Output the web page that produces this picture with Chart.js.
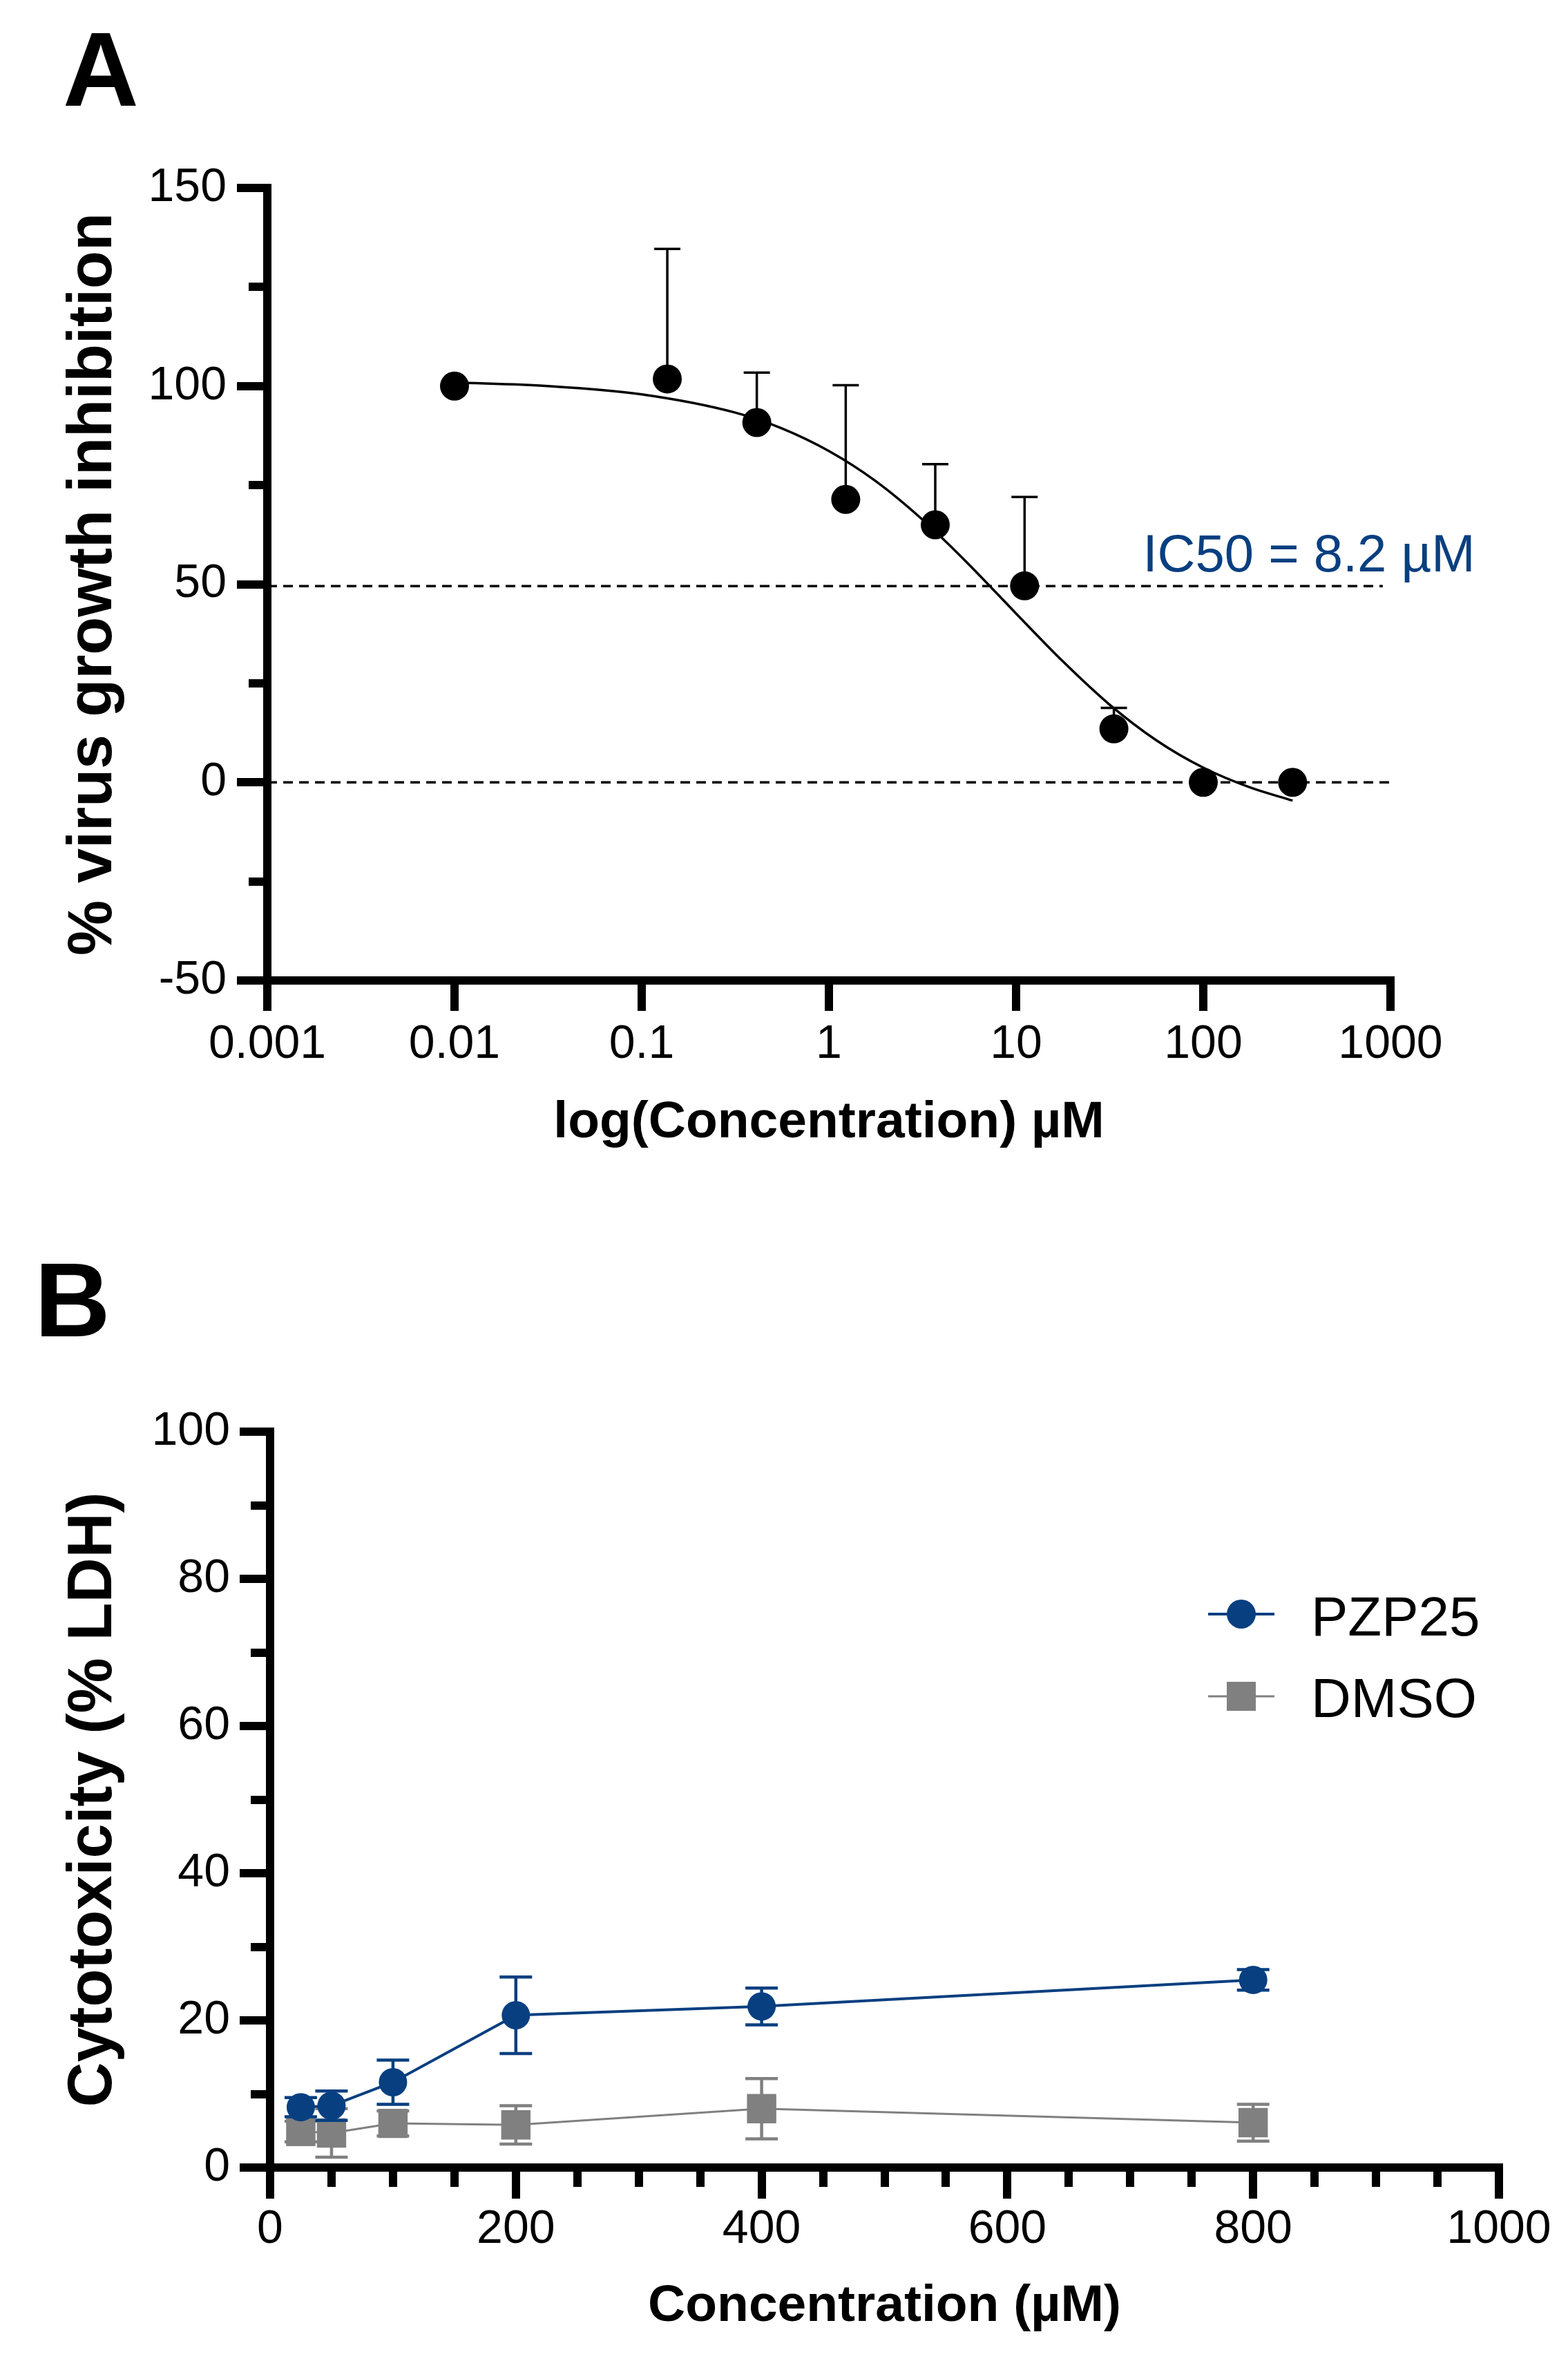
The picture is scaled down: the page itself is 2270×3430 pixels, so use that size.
<!DOCTYPE html>
<html>
<head>
<meta charset="utf-8">
<title>PZP25 dose response and cytotoxicity</title>
<script src="https://cdn.jsdelivr.net/npm/chart.js@4.4.1/dist/chart.umd.min.js"></script>
<style>
  html, body { margin: 0; padding: 0; background: #fff; }
  canvas { display: block; }
</style>
</head>
<body>
<canvas id="chartA" width="2270" height="1715"></canvas>
<canvas id="chartB" width="2270" height="1715"></canvas>
<script>
// ---- panel A: virus growth inhibition vs concentration (log axis) ----
const concA = [0.01, 0.137, 0.412, 1.23, 3.70, 11.1, 33.3, 100, 300];
const inhibition = [100, 101.8, 90.8, 71.4, 65.0, 49.6, 13.5, 0, 0];
const inhibitionErrUp = [0, 32.8, 12.6, 28.8, 15.3, 22.4, 5.3, 0, 0];

// fitted curve
const fitConc = [0.01, 0.0316, 0.1, 0.316, 0.562, 1, 1.78, 3.16, 5.62, 10, 17.8, 31.6, 56.2, 100, 178, 300];
const fitInhibition = [100.9, 100.0, 97.9, 93.3, 89.3, 83.6, 76.0, 66.3, 54.9, 42.6, 30.5, 19.6, 10.6, 3.7, -1.3, -4.6];

const halfLineX = [0.001, 910];
const halfLineY = [49.5, 49.5];
const zeroLineX = [0.001, 1000];
const zeroLineY = [0, 0];

const xTicksA = [0.001, 0.01, 0.1, 1, 10, 100, 1000];
const xTickLabelsA = ['0.001', '0.01', '0.1', '1', '10', '100', '1000'];
const ic50Text = 'IC50 = 8.2 \u00b5M';

// ---- panel B: cytotoxicity ----
const concB = [25, 50, 100, 200, 400, 800];
const pzp25 = [8.2, 8.4, 11.6, 20.7, 21.9, 25.5];
const pzp25Sd = [1.3, 2.0, 3.0, 5.2, 2.5, 1.4];
const dmso = [4.9, 4.7, 6.0, 5.8, 8.0, 6.1];
const dmsoSd = [1.4, 3.3, 1.7, 2.6, 4.1, 2.5];
const xTickLabelsB = ['0', '200', '400', '600', '800', '1000'];
const yTickLabelsB = ['0', '20', '40', '60', '80', '100'];

const BLUE = '#083f80';
const GREY = '#808080';
const FONT = '"Liberation Sans", Arial, Helvetica, sans-serif';

Chart.defaults.font.family = FONT;
Chart.defaults.color = '#000';

const pts = (xs, ys) => xs.map((x, i) => ({ x: x, y: ys[i] }));

const AXIS = 12;
const tickGrid = (len) => ({
  drawOnChartArea: false, drawTicks: true, tickLength: len,
  tickWidth: AXIS, lineWidth: AXIS, tickColor: '#000', color: '#000'
});
const minorAxis = (pos, min, max, step) => ({
  type: 'linear', position: pos, min: min, max: max, weight: 0,
  afterFit: (s) => { if (pos === 'left') s.width = 0; else s.height = 0; },
  ticks: { display: false, stepSize: step },
  grid: tickGrid(28),
  border: { display: false }
});

// error bars drawn right before the dataset they belong to
const errorBars = {
  id: 'errorBars',
  beforeDatasetDraw(chart, args) {
    const ds = chart.data.datasets[args.index];
    if (!ds.errUp && !ds.errDown) return;
    const y = chart.scales.y;
    const ctx = chart.ctx;
    ctx.save();
    ctx.strokeStyle = ds.errColor;
    ctx.lineWidth = ds.errWidth;
    args.meta.data.forEach((p, i) => {
      const v = ds.data[i].y;
      const up = ds.errUp ? ds.errUp[i] : 0;
      const dn = ds.errDown ? ds.errDown[i] : 0;
      if (!up && !dn) return;
      const yt = y.getPixelForValue(v + up);
      const yb = y.getPixelForValue(v - dn);
      ctx.beginPath();
      ctx.moveTo(p.x, yb);
      ctx.lineTo(p.x, yt);
      if (up) { ctx.moveTo(p.x - ds.capHalf, yt); ctx.lineTo(p.x + ds.capHalf, yt); }
      if (dn) { ctx.moveTo(p.x - ds.capHalf, yb); ctx.lineTo(p.x + ds.capHalf, yb); }
      ctx.stroke();
    });
    ctx.restore();
  }
};

const notesA = {
  id: 'notesA',
  afterDraw(chart) {
    const ctx = chart.ctx;
    ctx.save();
    ctx.fillStyle = '#000';
    ctx.textAlign = 'center';
    ctx.textBaseline = 'alphabetic';
    ctx.font = 'bold 152px ' + FONT;
    ctx.fillText('A', 146, 153);
    ctx.fillStyle = BLUE;
    ctx.font = '76px ' + FONT;
    ctx.fillText(ic50Text, 1895, 827);
    ctx.restore();
  }
};

const notesB = {
  id: 'notesB',
  afterDraw(chart) {
    const ctx = chart.ctx;
    ctx.save();
    ctx.fillStyle = '#000';
    ctx.textAlign = 'center';
    ctx.textBaseline = 'alphabetic';
    ctx.font = 'bold 152px ' + FONT;
    ctx.fillText('B', 105, 219);

    // legend
    const rows = [{ cy: 621, base: 652 }, { cy: 740, base: 770 }];
    chart.data.datasets.forEach((ds, i) => {
      const r = rows[i];
      const cx = 1797;
      ctx.strokeStyle = ds.borderColor;
      ctx.lineWidth = ds.borderWidth;
      ctx.beginPath();
      ctx.moveTo(cx - 48, r.cy);
      ctx.lineTo(cx + 48, r.cy);
      ctx.stroke();
      ctx.fillStyle = ds.backgroundColor;
      ctx.beginPath();
      if (ds.pointStyle === 'rect') ctx.rect(cx - 21, r.cy - 21, 42, 42);
      else ctx.arc(cx, r.cy, 21, 0, Math.PI * 2);
      ctx.fill();
      ctx.fillStyle = '#000';
      ctx.textAlign = 'left';
      ctx.font = '80px ' + FONT;
      ctx.fillText(ds.label, 1898, r.base);
    });
    ctx.restore();
  }
};

new Chart(document.getElementById('chartA'), {
  type: 'scatter',
  data: {
    datasets: [
      {
        label: 'data', data: pts(concA, inhibition), order: 0,
        backgroundColor: '#000', borderColor: '#000',
        pointRadius: 21, pointBorderWidth: 0, showLine: false,
        errUp: inhibitionErrUp, errColor: '#000', errWidth: 3.5, capHalf: 19
      },
      {
        label: 'fit', data: pts(fitConc, fitInhibition), order: 1,
        showLine: true, pointRadius: 0, borderColor: '#000', borderWidth: 3.5,
        cubicInterpolationMode: 'monotone'
      },
      {
        label: 'half', data: pts(halfLineX, halfLineY), order: 2,
        showLine: true, pointRadius: 0, borderColor: '#000', borderWidth: 3.5, borderDash: [14, 9]
      },
      {
        label: 'zero', data: pts(zeroLineX, zeroLineY), order: 2,
        showLine: true, pointRadius: 0, borderColor: '#000', borderWidth: 3.5, borderDash: [14, 9]
      }
    ]
  },
  options: {
    responsive: false, animation: false, devicePixelRatio: 1,
    layout: { padding: { left: 0, top: 272, right: 257, bottom: 0 } },
    plugins: { legend: { display: false }, tooltip: { enabled: false } },
    scales: {
      x: {
        type: 'logarithmic', position: 'bottom', min: 0.001, max: 1000, weight: 1,
        afterBuildTicks: (s) => { s.ticks = xTicksA.map(v => ({ value: v })); },
        afterFit: (s) => { s.height = 296; },
        ticks: { autoSkip: false, maxRotation: 0, padding: 8, font: { size: 68 },
          callback: (v, i) => xTickLabelsA[i] },
        grid: tickGrid(44),
        border: { display: true, width: AXIS, color: '#000' },
        title: { display: true, text: 'log(Concentration) \u00b5M',
          font: { size: 75, weight: 'bold' }, padding: { top: 0, bottom: 45 } }
      },
      y: {
        type: 'linear', position: 'left', min: -50, max: 150, weight: 1,
        afterFit: (s) => { s.width = 387; },
        ticks: { stepSize: 50, padding: 15, font: { size: 68 }, callback: (v) => String(v) },
        grid: tickGrid(44),
        border: { display: true, width: AXIS, color: '#000' },
        title: { display: true, text: '% virus growth inhibition',
          font: { size: 90, weight: 'bold' }, padding: { top: 82, bottom: 0 } }
      },
      yMinor: Object.assign(minorAxis('left', -50, 150, 25), { grid: tickGrid(27) })
    }
  },
  plugins: [errorBars, notesA]
});

new Chart(document.getElementById('chartB'), {
  type: 'scatter',
  data: {
    datasets: [
      {
        label: 'PZP25', data: pts(concB, pzp25), order: 0,
        showLine: true, borderColor: BLUE, backgroundColor: BLUE, borderWidth: 4,
        pointStyle: 'circle', pointRadius: 20.5, pointBorderWidth: 0,
        errUp: pzp25Sd, errDown: pzp25Sd, errColor: BLUE, errWidth: 4.5, capHalf: 23.5
      },
      {
        label: 'DMSO', data: pts(concB, dmso), order: 1,
        showLine: true, borderColor: GREY, backgroundColor: GREY, borderWidth: 3,
        pointStyle: 'rect', pointRadius: 30, pointBorderWidth: 0,
        errUp: dmsoSd, errDown: dmsoSd, errColor: GREY, errWidth: 4.5, capHalf: 23.5
      }
    ]
  },
  options: {
    responsive: false, animation: false, devicePixelRatio: 1,
    layout: { padding: { left: 0, top: 357, right: 100, bottom: 0 } },
    plugins: { legend: { display: false }, tooltip: { enabled: false } },
    scales: {
      x: {
        type: 'linear', position: 'bottom', min: 0, max: 1000, weight: 1,
        afterFit: (s) => { s.height = 293; },
        ticks: { stepSize: 200, autoSkip: false, maxRotation: 0, padding: 4, font: { size: 68 },
          callback: (v, i) => xTickLabelsB[i] },
        grid: tickGrid(45),
        border: { display: true, width: AXIS, color: '#000' },
        title: { display: true, text: 'Concentration (\u00b5M)',
          font: { size: 75, weight: 'bold' }, padding: { top: 0, bottom: 47 } }
      },
      xMinor: minorAxis('bottom', 0, 1000, 50),
      y: {
        type: 'linear', position: 'left', min: 0, max: 100, weight: 1,
        afterFit: (s) => { s.width = 391; },
        ticks: { stepSize: 20, padding: 14, font: { size: 68 },
          callback: (v, i) => yTickLabelsB[i] },
        grid: tickGrid(44),
        border: { display: true, width: AXIS, color: '#000' },
        title: { display: true, text: 'Cytotoxicity (% LDH)',
          font: { size: 90, weight: 'bold' }, padding: { top: 82, bottom: 0 } }
      },
      yMinor: minorAxis('left', 0, 100, 10)
    }
  },
  plugins: [errorBars, notesB]
});
</script>
</body>
</html>
